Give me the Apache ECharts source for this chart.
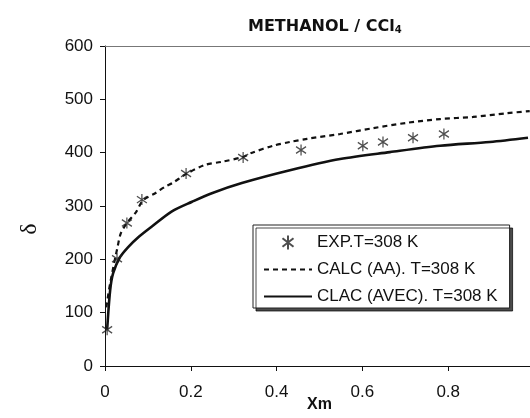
<!DOCTYPE html>
<html>
<head>
<meta charset="utf-8">
<script src="https://cdn.jsdelivr.net/npm/echarts@6/dist/echarts.min.js"></script>
<style>
  html, body { margin: 0; padding: 0; background: #fff; }
  #chart { width: 530px; height: 418px; }
</style>
</head>
<body>
<div id="chart"></div>
<script>
// Experimental points (mole fraction of methanol vs. delta)
const expX = [0.005, 0.028, 0.051, 0.086, 0.189, 0.322, 0.457, 0.601, 0.648, 0.718, 0.790];
const expY = [68, 201, 268, 312, 361, 391, 405, 413, 420, 428, 435];

// Calculated curve, AA model
const aaX = [0.003, 0.012, 0.030, 0.037, 0.051, 0.072, 0.089, 0.117, 0.140, 0.159, 0.189, 0.233, 0.273, 0.322, 0.343, 0.392, 0.431, 0.471, 0.548, 0.625, 0.704, 0.781, 0.858, 0.937, 0.990];
const aaY = [110, 155, 226, 249, 268, 288, 311, 324, 336, 344, 360, 377, 383, 392, 400, 413, 420, 426, 435, 446, 456, 463, 467, 474, 478];

// Calculated curve, AVEC model
const avecX = [0.005, 0.012, 0.019, 0.035, 0.054, 0.077, 0.110, 0.156, 0.203, 0.249, 0.319, 0.431, 0.548, 0.664, 0.781, 0.897, 0.986];
const avecY = [68, 142, 174, 204, 223, 241, 262, 290, 308, 324, 343, 367, 388, 401, 413, 420, 428];

const xTicks = [0, 0.2, 0.4, 0.6, 0.8, 1];
const yTicks = [0, 100, 200, 300, 400, 500, 600];

const seriesNames = ['EXP.T=308 K', 'CALC (AA). T=308 K', 'CLAC (AVEC). T=308 K'];
const titleMain = 'METHANOL / CCl';
const titleSub = '4';
const xName = 'Xm';
const yName = 'δ';

const pairs = (xs, ys) => xs.map((x, i) => [x, ys[i]]);

// asterisk marker: vertical stroke plus two diagonals
const starSymbol = 'path://M0,-5L0,5M-3.94,-3.08L3.94,3.08M-3.94,3.08L3.94,-3.08';

const ink = '#111';
const chart = echarts.init(document.getElementById('chart'), null, { renderer: 'canvas' });

chart.setOption({
  animation: false,
  backgroundColor: '#fff',
  textStyle: { fontFamily: 'Liberation Sans, Arial, sans-serif', color: ink },
  title: {
    text: '{a|' + titleMain + '}{s|' + titleSub + '}',
    left: 243,
    top: 14,
    textStyle: {
      rich: {
        a: { fontFamily: 'DejaVu Sans', fontWeight: 'bold', fontSize: 16, color: ink },
        s: { fontFamily: 'DejaVu Sans', fontWeight: 'bold', fontSize: 10, color: ink, verticalAlign: 'bottom' }
      }
    }
  },
  grid: { left: 105, right: -4, top: 46, bottom: 52, containLabel: false, outerBoundsMode: 'none' },
  legend: {
    orient: 'vertical',
    left: 253,
    top: 225,
    padding: [9, 12, 3, 10],
    itemGap: 10,
    itemWidth: 48,
    itemHeight: 14,
    backgroundColor: '#fff',
    borderColor: '#222',
    borderWidth: 1,
    shadowColor: 'rgba(0,0,0,0.7)',
    shadowOffsetX: 3,
    shadowOffsetY: 3,
    shadowBlur: 0,
    selectedMode: false,
    textStyle: { fontSize: 17, color: ink, fontFamily: 'Liberation Sans' },
    data: seriesNames
  },
  xAxis: [
    {
      type: 'value',
      min: xTicks[0],
      max: xTicks[xTicks.length - 1],
      interval: 0.2,
      axisLine: { show: true, lineStyle: { color: ink, width: 1 } },
      axisTick: { show: true, length: 5, lineStyle: { color: ink } },
      axisLabel: { fontSize: 17, color: ink, margin: 18, formatter: v => String(+v.toFixed(1)) },
      splitLine: { show: false },
      name: xName,
      nameLocation: 'middle',
      nameGap: 31,
      nameMoveOverlap: false,
      nameTextStyle: { fontSize: 16, fontWeight: 'bold', color: ink }
    },
    {
      type: 'value',
      position: 'top',
      min: xTicks[0],
      max: xTicks[xTicks.length - 1],
      axisLine: { show: true, lineStyle: { color: '#777', width: 1 } },
      axisTick: { show: false },
      axisLabel: { show: false },
      splitLine: { show: false }
    }
  ],
  yAxis: {
    type: 'value',
    min: yTicks[0],
    max: yTicks[yTicks.length - 1],
    interval: 100,
    axisLine: { show: true, lineStyle: { color: ink, width: 1 } },
    axisTick: { show: true, length: 5, lineStyle: { color: ink } },
    axisLabel: { fontSize: 17, color: ink, margin: 12 },
    splitLine: { show: false },
    name: yName,
    nameLocation: 'middle',
    nameGap: 63,
    nameRotate: 90,
    nameMoveOverlap: false,
    nameTextStyle: { fontSize: 24, fontFamily: 'Liberation Serif', color: ink, padding: [0, 46, 0, 0] }
  },
  series: [
    {
      name: seriesNames[0],
      type: 'scatter',
      data: pairs(expX, expY),
      symbol: starSymbol,
      symbolSize: [10, 11],
      itemStyle: { color: 'transparent', borderColor: '#222', borderWidth: 1.3 },
      z: 5
    },
    {
      name: seriesNames[1],
      type: 'line',
      data: pairs(aaX, aaY),
      symbol: 'none',
      smooth: 0.3,
      itemStyle: { color: 'transparent' },
      lineStyle: { color: ink, width: 2.2, type: [5, 4] }
    },
    {
      name: seriesNames[2],
      type: 'line',
      data: pairs(avecX, avecY),
      symbol: 'none',
      smooth: 0.3,
      itemStyle: { color: 'transparent' },
      lineStyle: { color: ink, width: 2.6, type: 'solid' }
    }
  ]
});
</script>
</body>
</html>
